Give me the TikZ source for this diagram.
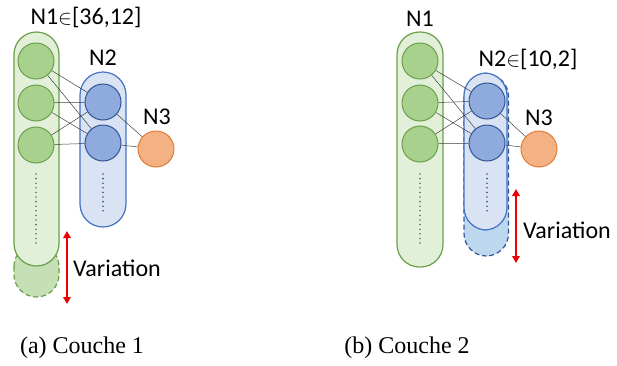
\documentclass[tikz,border=0pt]{standalone}
\usepackage{fontspec}
\setmainfont{Liberation Serif}
\newfontfamily\labfont{Carlito}
\usetikzlibrary{arrows.meta}
\definecolor{gfill}{HTML}{E2F0D9}
\definecolor{gdark}{HTML}{C5E0B4}
\definecolor{gline}{HTML}{6A9F48}
\definecolor{gcirc}{HTML}{A9D18E}
\definecolor{gdot}{HTML}{548235}
\definecolor{bfill}{HTML}{DAE3F3}
\definecolor{bdark}{HTML}{BDD7EE}
\definecolor{bline}{HTML}{4472C4}
\definecolor{bcirc}{HTML}{8FAADC}
\definecolor{bedge}{HTML}{2F5597}
\definecolor{ofill}{HTML}{F4B183}
\definecolor{oline}{HTML}{E07B39}
\definecolor{arr}{HTML}{F00000}
\tikzset{
  lbl/.style={font=\labfont\fontsize{24}{28}\selectfont, inner sep=0pt},
  captiontext/.style={font=\fontsize{24}{28}\selectfont, inner sep=0pt},
  gcap/.style={draw=gline, fill=gfill, line width=1.2pt},
  gext/.style={draw=gline, fill=gdark, line width=1.2pt, dashed, dash pattern=on 5pt off 3pt},
  bcap/.style={draw=bline, fill=bfill, line width=1.2pt},
  bext/.style={draw=bedge, fill=bdark, line width=1.2pt, dashed, dash pattern=on 5pt off 3pt},
  gneuron/.style={circle, draw=gline, fill=gcirc, line width=1pt, minimum size=36pt, inner sep=0pt},
  bneuron/.style={circle, draw=bedge, fill=bcirc, line width=1pt, minimum size=36pt, inner sep=0pt},
  oneuron/.style={circle, draw=oline, fill=ofill, line width=1pt, minimum size=36pt, inner sep=0pt},
  link/.style={draw=black!75, line width=0.5pt},
  dots/.style={line width=1.8pt, line cap=round, dash pattern=on 0pt off 4.6pt},
  vary/.style={draw=arr, line width=2.4pt, {Triangle[length=7pt,width=7.5pt]}-{Triangle[length=7pt,width=7.5pt]}},
}
\newcommand{\elemof}{{\fontsize{20}{24}\selectfont$\in$}}
\begin{document}
\begin{tikzpicture}[x=1pt, y=-1pt]
\useasboundingbox (0,0) rectangle (617,365);

% ---------- (a) Couche 1 ----------
\draw[gext, rounded corners=22.5pt] (14,244) rectangle (59,297);
\draw[gcap, rounded corners=22.5pt] (14,32) rectangle (59,266);
\draw[bcap, rounded corners=23pt] (80,72) rectangle (126,227);

\node[gneuron] (ga1) at (36,61) {};
\node[gneuron] (ga2) at (36,103) {};
\node[gneuron] (ga3) at (36,145) {};
\node[bneuron] (ba1) at (103,102) {};
\node[bneuron] (ba2) at (103,143) {};
\node[oneuron] (oa) at (156,149) {};

\coordinate (gda) at (36,174);
\coordinate (gea) at (36,243);
\draw[dots, draw=gdot] (gda) -- (gea);
\coordinate (bda) at (103,174);
\coordinate (bea) at (103,214);
\draw[dots, draw=bedge] (bda) -- (bea);

\foreach \g in {ga1,ga2,ga3}{
  \foreach \b in {ba1,ba2}{ \draw[link] (\g) -- (\b); }
}
\draw[link] (ba1) -- (oa);
\draw[link] (ba2) -- (oa);

\node[lbl] (n1a) at (86,17) {N1\elemof[36,12]};
\node[lbl] (n2a) at (103,58) {N2};
\node[lbl] (n3a) at (157,117) {N3};

\coordinate (vta) at (67,231);
\coordinate (vba) at (67,304);
\draw[vary] (vta) -- (vba);
\node[lbl, anchor=west] (va) at (73,268) {Variation};

\node[captiontext] (capa) at (82,348) {(a) Couche 1};

% ---------- (b) Couche 2 ----------
\draw[gcap, rounded corners=22.5pt] (397,32) rectangle (443,267);
\draw[bext, rounded corners=22.5pt] (464,74) rectangle (508.5,256);
\draw[bcap, rounded corners=22.5pt] (464,73) rectangle (507,230);

\node[gneuron] (gb1) at (420,61) {};
\node[gneuron] (gb2) at (420,103) {};
\node[gneuron] (gb3) at (420,144) {};
\node[bneuron] (bb1) at (487,101) {};
\node[bneuron] (bb2) at (487,143) {};
\node[oneuron] (ob) at (539,149) {};

\coordinate (gdb) at (420,174);
\coordinate (geb) at (420,243);
\draw[dots, draw=gdot] (gdb) -- (geb);
\coordinate (bdb) at (487,174);
\coordinate (beb) at (487,214);
\draw[dots, draw=bedge] (bdb) -- (beb);

\foreach \g in {gb1,gb2,gb3}{
  \foreach \b in {bb1,bb2}{ \draw[link] (\g) -- (\b); }
}
\draw[link] (bb1) -- (ob);
\draw[link] (bb2) -- (ob);

\node[lbl] (n1b) at (420,19) {N1};
\node[lbl] (n2b) at (528,59) {N2\elemof[10,2]};
\node[lbl] (n3b) at (539,118) {N3};

\coordinate (vtb) at (516,189);
\coordinate (vbb) at (516,263);
\draw[vary] (vtb) -- (vbb);
\node[lbl, anchor=west] (vb) at (523,230) {Variation};

\node[captiontext] (capb) at (407,348) {(b) Couche 2};
\end{tikzpicture}
\end{document}
